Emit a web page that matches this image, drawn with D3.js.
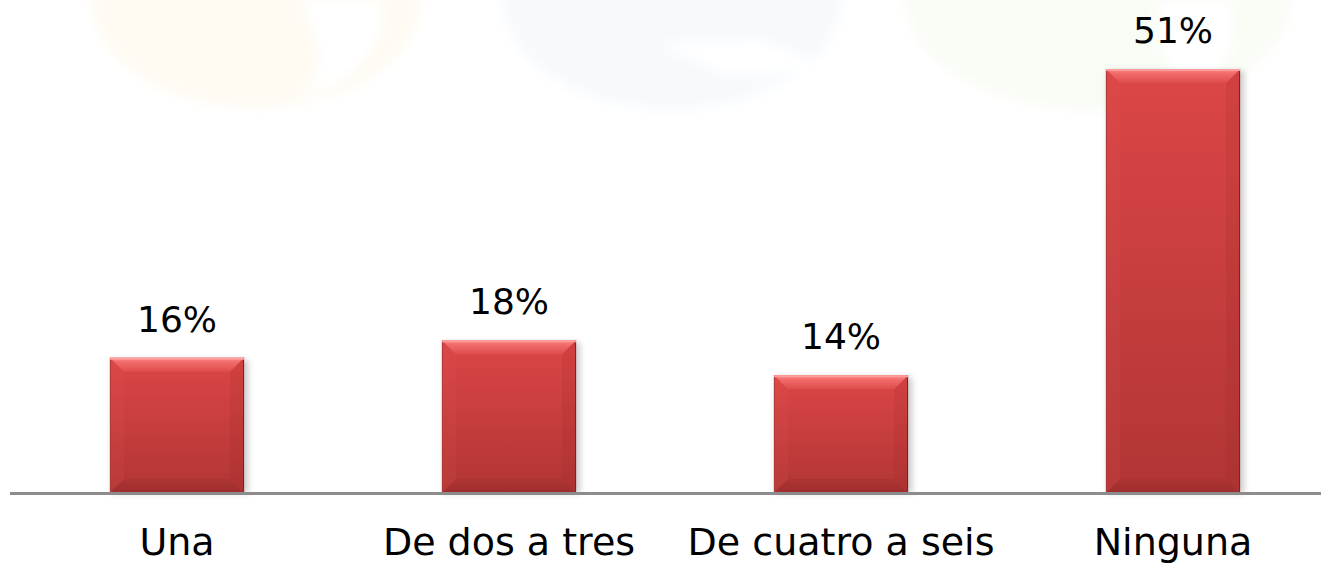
<!DOCTYPE html>
<html>
<head>
<meta charset="utf-8">
<style>
  html, body { margin: 0; padding: 0; background: #fff; }
  svg { display: block; }
  text { font-family: Verdana, "DejaVu Sans", sans-serif; fill: #000; }
</style>
</head>
<body>
<svg width="1321" height="565"></svg>
<script src="https://cdnjs.cloudflare.com/ajax/libs/d3/7.8.5/d3.min.js"></script>
<script>
// data
let categories = ["Una", "De dos a tres", "De cuatro a seis", "Ninguna"];
let values = [16.3, 18.4, 14.2, 51.1];
let labels = ["16%", "18%", "14%", "51%"];

let width = 1321, height = 565;
let baseY = 493;

let svg = d3.select("svg");
let defs = svg.append("defs");

let soft = defs.append("filter").attr("id", "soft");
soft.append("feGaussianBlur").attr("stdDeviation", 6);

// faint logo watermark in the background
let marks = svg.append("g").attr("id", "watermark").attr("filter", "url(#soft)");
marks.append("ellipse").attr("cx", 256).attr("cy", 0).attr("rx", 165).attr("ry", 108).attr("fill", "#fffbf3");
marks.append("ellipse").attr("cx", 672).attr("cy", 0).attr("rx", 170).attr("ry", 110).attr("fill", "#f7fafd");
marks.append("ellipse").attr("cx", 1098).attr("cy", 0).attr("rx", 192).attr("ry", 110).attr("fill", "#f9fcf5");
marks.append("path").attr("d", "M300,0 C320,40 330,70 300,100 C360,80 390,40 380,0 Z").attr("fill", "#fff");
marks.append("path").attr("d", "M660,45 L760,40 L830,70 L730,75 Z").attr("fill", "#fff");
marks.append("path").attr("d", "M1160,0 C1150,40 1170,80 1200,100 C1230,70 1240,30 1230,0 Z").attr("fill", "#fff");

let x = d3.scaleBand()
    .domain(categories)
    .range([11, 1339])
    .paddingInner(0.596)
    .paddingOuter(0.298);

let y = d3.scaleLinear()
    .domain([0, 51.1])
    .range([baseY, 69]);

// gradients
let body = defs.append("linearGradient").attr("id", "barBody").attr("x1", 0).attr("y1", 0).attr("x2", 0).attr("y2", 1);
body.append("stop").attr("offset", "0%").attr("stop-color", "#dc4646");
body.append("stop").attr("offset", "100%").attr("stop-color", "#b23535");

let topBevel = defs.append("linearGradient").attr("id", "topBevel").attr("x1", 0).attr("y1", 0).attr("x2", 0).attr("y2", 1);
topBevel.append("stop").attr("offset", "0%").attr("stop-color", "#fa8a8a");
topBevel.append("stop").attr("offset", "30%").attr("stop-color", "#f26c6c");
topBevel.append("stop").attr("offset", "100%").attr("stop-color", "#df4c4c");

let botBevel = defs.append("linearGradient").attr("id", "botBevel").attr("x1", 0).attr("y1", 0).attr("x2", 0).attr("y2", 1);
botBevel.append("stop").attr("offset", "0%").attr("stop-color", "#aa3333");
botBevel.append("stop").attr("offset", "100%").attr("stop-color", "#982a2a");

let blur = defs.append("filter").attr("id", "shadow").attr("x", "-20%").attr("y", "-5%").attr("width", "140%").attr("height", "110%");
blur.append("feGaussianBlur").attr("stdDeviation", 3);

let bars = svg.append("g").attr("id", "bars")
    .selectAll("g")
    .data(categories)
    .enter()
    .append("g");

let b = 14;

bars.each(function (c, i) {
    let g = d3.select(this);
    let x0 = x(c), w = x.bandwidth(), x1 = x0 + w;
    let y0 = y(values[i]), y1 = baseY;

    g.append("rect")
        .attr("x", x0 + 2).attr("y", y0 + 2)
        .attr("width", w + 2).attr("height", y1 - y0 - 2)
        .attr("fill", "#999").attr("opacity", 0.5)
        .attr("filter", "url(#shadow)");

    g.append("rect")
        .attr("x", x0).attr("y", y0)
        .attr("width", w).attr("height", y1 - y0)
        .attr("fill", "url(#barBody)");

    // side bevels, very subtle
    g.append("polygon")
        .attr("points", [[x0, y0], [x0 + b, y0 + b], [x0 + b, y1 - b], [x0, y1]].join(" "))
        .attr("fill", "#e35a5a").attr("opacity", 0.12);
    g.append("polygon")
        .attr("points", [[x1, y0], [x1 - b, y0 + b], [x1 - b, y1 - b], [x1, y1]].join(" "))
        .attr("fill", "#8a2424").attr("opacity", 0.12);

    g.append("polygon")
        .attr("points", [[x0, y0], [x1, y0], [x1 - b, y0 + b], [x0 + b, y0 + b]].join(" "))
        .attr("fill", "url(#topBevel)");
    g.append("polygon")
        .attr("points", [[x0, y1], [x1, y1], [x1 - b, y1 - b], [x0 + b, y1 - b]].join(" "))
        .attr("fill", "url(#botBevel)").attr("opacity", 0.75);

    g.append("line")
        .attr("x1", x1 - 0.5).attr("x2", x1 - 0.5)
        .attr("y1", y0).attr("y2", y1)
        .attr("stroke", "#7d2222").attr("stroke-width", 1);
    g.append("line")
        .attr("x1", x0 + 0.5).attr("x2", x0 + 0.5)
        .attr("y1", y0).attr("y2", y1)
        .attr("stroke", "#b03a3a").attr("stroke-width", 1);
    g.append("line")
        .attr("x1", x0).attr("x2", x1)
        .attr("y1", y0 + 1).attr("y2", y0 + 1)
        .attr("stroke", "#ff9c9c").attr("stroke-width", 2);
});

// axis line
svg.append("line")
    .attr("x1", 10).attr("x2", width)
    .attr("y1", baseY + 0.5).attr("y2", baseY + 0.5)
    .attr("stroke", "#8c8c8c").attr("stroke-width", 3);

// value labels
svg.append("g").attr("id", "values")
    .selectAll("text")
    .data(categories)
    .enter()
    .append("text")
    .attr("x", d => x(d) + x.bandwidth() / 2)
    .attr("y", (d, i) => y(values[i]) - 26)
    .attr("text-anchor", "middle")
    .style("font-size", "36px")
    .text((d, i) => labels[i]);

// category labels
svg.append("g").attr("id", "categories")
    .selectAll("text")
    .data(categories)
    .enter()
    .append("text")
    .attr("x", d => x(d) + x.bandwidth() / 2)
    .attr("y", 555)
    .attr("text-anchor", "middle")
    .style("font-size", "38px")
    .text(d => d);
</script>
</body>
</html>
